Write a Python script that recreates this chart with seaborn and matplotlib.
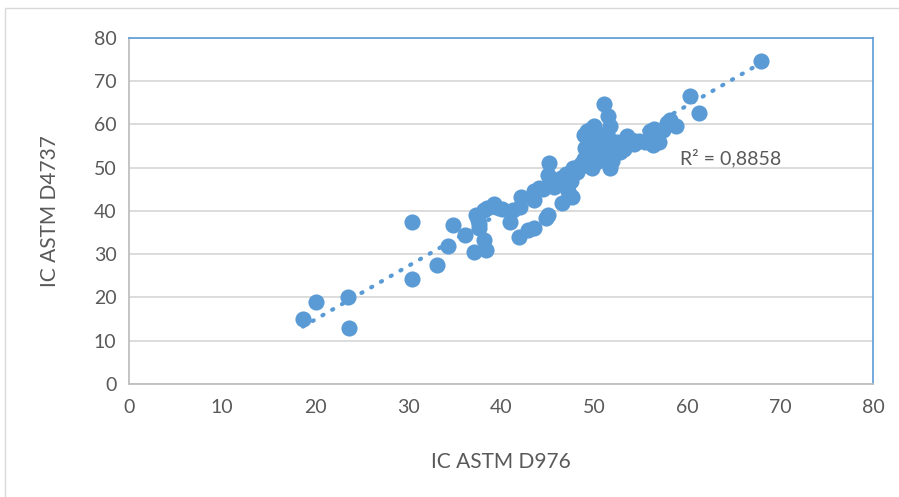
import matplotlib
matplotlib.use("Agg")
import matplotlib.pyplot as plt
from matplotlib.patches import Rectangle
import seaborn as sns
import pandas as pd

# Data
ic_d976 = [18.7, 20.1, 23.5, 23.7, 30.4, 30.4, 33.1, 34.3, 34.8, 36.1,
           37.1, 38.4, 38.2, 37.3, 37.6, 37.6, 37.5, 38.2, 38.5, 39.2,
           39.5, 40.1, 41.0, 41.3, 41.9, 42.1, 42.0, 42.9, 43.5, 43.5,
           43.6, 44.1, 44.8, 45.0, 45.2, 45.0, 45.5, 45.7, 46.0, 46.6,
           46.9, 47.2, 47.6, 47.5, 47.7, 48.2, 48.5, 48.9, 48.9, 49.3,
           49.7, 50.0, 49.2, 49.5, 49.8, 50.0, 50.2, 50.5, 50.0, 51.1,
           51.5, 51.7, 51.5, 51.7, 51.0, 51.2, 52.0, 52.3, 52.5, 52.8,
           53.2, 53.5, 53.8, 54.3, 54.8, 55.5, 56.0, 56.3, 56.5, 57.0,
           57.4, 57.8, 58.2, 58.8, 60.3, 61.3, 68.0,
           46.5, 47.0, 48.0, 48.7, 49.0, 50.6, 44.5, 45.3, 52.0,
           49.4, 50.4, 50.8, 51.3, 51.9, 52.6, 53.0, 49.0, 50.9, 51.6]
ic_d4737 = [15.0, 19.0, 20.0, 13.0, 37.5, 24.3, 27.6, 31.9, 36.8, 34.5,
            30.4, 31.0, 33.3, 39.0, 37.0, 36.0, 38.0, 40.2, 40.7, 41.5,
            41.0, 40.5, 37.5, 40.2, 34.0, 43.2, 41.0, 35.5, 36.0, 42.5,
            44.5, 45.3, 38.3, 39.0, 51.0, 48.3, 46.0, 45.5, 46.5, 41.8,
            48.0, 44.5, 43.2, 47.0, 50.0, 49.0, 50.5, 52.0, 57.6, 58.5,
            59.0, 59.6, 51.0, 53.0, 50.0, 52.0, 54.0, 55.0, 56.5, 64.7,
            61.8, 59.5, 57.0, 49.8, 52.5, 54.0, 53.0, 55.0, 56.0, 53.5,
            54.3, 57.2, 56.0, 55.5, 56.2, 55.8, 58.5, 55.2, 58.8, 56.0,
            58.7, 60.3, 61.0, 59.5, 66.5, 62.6, 74.7,
            47.5, 48.5, 49.5, 51.0, 50.5, 53.5, 45.0, 47.5, 55.5,
            55.5, 51.5, 56.0, 55.5, 51.5, 54.5, 55.0, 54.5, 57.5, 53.0]
x_ticks = [0, 10, 20, 30, 40, 50, 60, 70, 80]
y_ticks = [0, 10, 20, 30, 40, 50, 60, 70, 80]
x_label = "IC ASTM D976"
y_label = "IC ASTM D4737"
r2_label = "R² = 0,8858"

df = pd.DataFrame({"x": ic_d976, "y": ic_d4737})

sns.set_theme(style="white")
plt.rcParams['font.family'] = ['Lato', 'DejaVu Sans']

blue = "#5B9BD5"
text_c = "#595959"
grid_c = "#D9D9D9"
axis_c = "#BFBFBF"

fig = plt.figure(figsize=(8.99, 4.97), dpi=100)
ax = fig.add_axes([129/899, 1-384/497, (873-129)/899, (384-37.7)/497])

sns.regplot(data=df, x="x", y="y", ax=ax, ci=None, color=blue,
            scatter_kws=dict(s=135, alpha=1, linewidths=0, zorder=3),
            line_kws=dict(linestyle=(0, (0.3, 2.4)), linewidth=3.0,
                          dash_capstyle="round", zorder=4))

ax.set_xlim(0, 80)
ax.set_ylim(0, 80)
ax.set_xticks(x_ticks)
ax.set_yticks(y_ticks)
ax.yaxis.grid(True, color=grid_c, linewidth=1.3, zorder=0)
ax.set_axisbelow(True)
ax.tick_params(axis="both", colors=axis_c, labelcolor=text_c, labelsize=14,
               length=5, width=1.2, direction="out")
ax.tick_params(axis="x", pad=6)
ax.tick_params(axis="y", pad=4)
for s in ["left", "bottom"]:
    ax.spines[s].set_color(axis_c)
    ax.spines[s].set_linewidth(1.3)
for s in ["top", "right"]:
    ax.spines[s].set_color(blue)
    ax.spines[s].set_linewidth(1.2)

ax.set_xlabel(x_label, fontsize=15, color=text_c, labelpad=26)
ax.set_ylabel(y_label, fontsize=15, color=text_c, labelpad=24)
ax.text(59.2, 52.2, r2_label, fontsize=14, color=text_c, va="center", ha="left")

fig.patches.append(Rectangle((5/899, -0.01), 1.0, 1-8/497+0.01,
                             transform=fig.transFigure, fill=False,
                             edgecolor=grid_c, linewidth=1.0))

fig.savefig("out.png", dpi=100)
